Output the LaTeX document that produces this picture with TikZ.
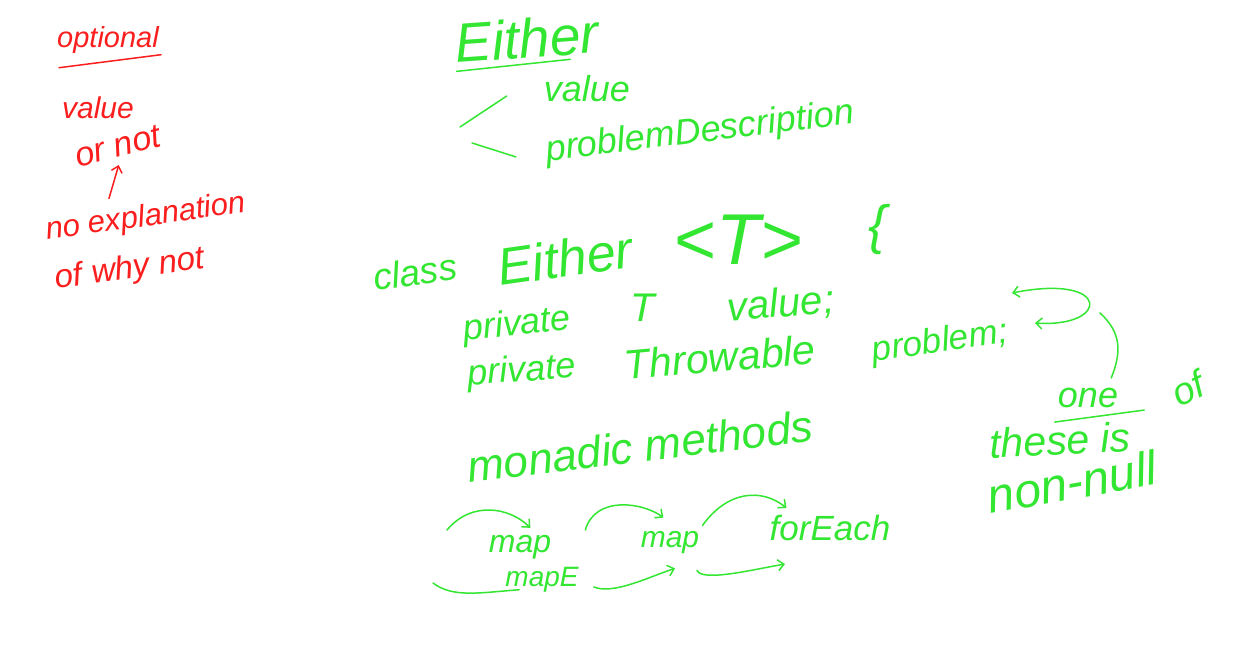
\documentclass[tikz,border=0pt]{standalone}
\usepackage{fontspec}
\setmainfont{Liberation Sans}
\usetikzlibrary{arrows.meta,calc}

\definecolor{penred}{RGB}{250,30,30}
\definecolor{pengreen}{RGB}{50,230,50}
\newcommand{\hand}[1]{\fontsize{#1}{#1}\selectfont\itshape}

\begin{document}
\begin{tikzpicture}[x=1pt,y=-1pt]
\tikzstyle{redtext} = [text=penred, inner sep=0pt]
\tikzstyle{greentext} = [text=pengreen, inner sep=0pt]
\tikzstyle{redline} = [draw=penred, line width=1.5pt, line cap=round]
\tikzstyle{greenline} = [draw=pengreen, line width=1.5pt, line cap=round]
\tikzstyle{redarrow} = [redline, -{Straight Barb[length=6pt,width=11pt]}]
\tikzstyle{greenarrow} = [greenline, -{Straight Barb[length=6pt,width=11pt]}]

\fill [white] (0,0) rectangle (1250,650);
\useasboundingbox (0,0) rectangle (1250,650);

% Optional notes (red)
\node [redtext, font=\hand{29}] (optional) at (108,40) {optional};
\node [redtext, font=\hand{30}] (redValue) at (98,108) {value};
\node [redtext, font=\hand{34}, rotate=14] (orNot) at (118,146) {or not};
\node [redtext, font=\hand{31}, rotate=8] (noExpl) at (146,218) {no explanation};
\node [redtext, font=\hand{33}, rotate=8] (whyNot) at (130,270) {of why not};

\draw [redline] ($(optional.south west)+(2,14)$) -- ($(optional.south east)+(2,1)$);
\draw [redarrow] ($(noExpl.north)+(-35,-5)$) -- ($(orNot.south)+(-2,8)$);

% Either
\node [greentext, font=\hand{55}, rotate=4] (either) at (527,38) {Either};
\node [greentext, font=\hand{36}] (greenValue) at (587,89) {value};
\node [greentext, font=\hand{36}, rotate=7] (problemDesc) at (700,133) {problemDescription};

\draw [greenline] ($(either.south west)+(0,8)$) -- ($(either.south east)+(-30,6)$);
\coordinate (forkTop) at (460,127);
\coordinate (forkBottom) at (472,143);
\draw [greenline] (forkTop) -- ($(greenValue.west)+(-37,7)$);
\draw [greenline] (forkBottom) -- ($(problemDesc.west)+(-30,5)$);

% class declaration
\node [greentext, font=\hand{37}, rotate=8] (classKw) at (415,272) {class};
\node [greentext, font=\hand{52}, rotate=8] (eitherKw) at (565,258) {Either};
\node [greentext, font=\hand{72}] (typeParam) at (738,240) {<T>};
\node [greentext, font=\hand{54}] (openBrace) at (878,230) {\{};

\node [greentext, font=\hand{36}, rotate=6] (privateA) at (517,326) {private};
\node [greentext, font=\hand{40}] (typeT) at (643,308) {T};
\node [greentext, font=\hand{40}, rotate=5] (valueField) at (781,305) {value;};
\node [greentext, font=\hand{36}, rotate=4] (privateB) at (522,372) {private};
\node [greentext, font=\hand{41}, rotate=5] (throwable) at (720,357) {Throwable};
\node [greentext, font=\hand{35}, rotate=8] (problemField) at (940,343) {problem;};

% one of these is non-null
\coordinate (swapTop) at (1012,293);
\coordinate (swapBottom) at (1035,323);
\draw [greenline, {Straight Barb[length=6pt,width=11pt]}-{Straight Barb[length=6pt,width=11pt]}] (swapTop) .. controls +(100,-20) and +(75,5) .. (swapBottom);

\node [greentext, font=\hand{36}] (oneWord) at (1088,398) {one};
\node [greentext, font=\hand{38}, rotate=25] (ofWord) at (1188,388) {of};
\node [greentext, font=\hand{41}, rotate=3] (theseIs) at (1060,440) {these is};
\node [greentext, font=\hand{48}, rotate=10] (nonNull) at (1072,482) {non-null};

\coordinate (curveTop) at (1100,313);
\draw [greenline] (curveTop) .. controls +(22,20) and +(10,-25) .. ($(oneWord.north east)+(-7,-10)$);
\draw [greenline] ($(oneWord.south west)+(-3,14)$) -- ($(oneWord.south east)+(26,2)$);

% monadic methods
\node [greentext, font=\hand{44}, rotate=7] (monadic) at (640,446) {monadic methods};

\node [greentext, font=\hand{32}] (mapA) at (520,547) {map};
\node [greentext, font=\hand{30}] (mapB) at (670,543) {map};
\node [greentext, font=\hand{35}] (forEachN) at (830,528) {forEach};
\node [greentext, font=\hand{28}] (mapE) at (542,580) {mapE};

\coordinate (chainStart) at (447,530);
\draw [greenarrow] (chainStart) .. controls +(25,-30) and +(-20,-20) .. ($(mapA.north east)+(-21,-7)$);
\draw [greenarrow] ($(mapA.east)+(34,-17)$) .. controls +(10,-35) and +(-20,-15) .. ($(mapB.north east)+(-36,-14)$);
\draw [greenarrow] ($(mapB.north east)+(3,-6)$) .. controls +(25,-35) and +(-25,-20) .. ($(forEachN.north west)+(17,-7)$);

\coordinate (mapEStart) at (433,583);
\draw [greenline] (mapEStart) .. controls +(20,15) and +(-40,3) .. ($(mapE.south west)+(14,-3)$);
\draw [greenarrow] ($(mapE.east)+(15,7)$) .. controls +(20,8) and +(-25,8) .. ($(mapB.south)+(5,14)$);
\draw [greenarrow] ($(mapB.south)+(27,16)$) .. controls +(5,12) and +(-30,5) .. ($(forEachN.south)+(-45,23)$);

\end{tikzpicture}
\end{document}
